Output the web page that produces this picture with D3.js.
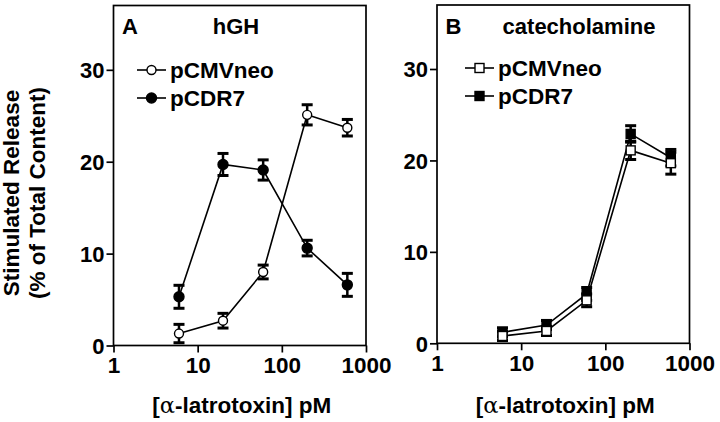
<!DOCTYPE html>
<html><head><meta charset="utf-8">
<script src="https://cdnjs.cloudflare.com/ajax/libs/d3/7.8.5/d3.min.js"></script>
<style>body{margin:0;background:#fff}svg{display:block}text{font-family:"Liberation Sans",Arial,Helvetica,sans-serif;font-weight:bold;fill:#000}</style>
</head><body><svg id="c" width="720" height="422"></svg>
<script>
const doses = [6, 20, 60, 200, 600];
const xTicks = [1, 10, 100, 1000];
const yTicks = [0, 10, 20, 30];
// Panel A: hGH
const hghCMV = [1.3, 2.7, 8.0, 25.1, 23.7];
const hghCMVErr = [1.0, 0.8, 0.75, 1.1, 0.9];
const hghCDR = [5.3, 19.7, 19.1, 10.6, 6.6];
const hghCDRErr = [1.25, 1.2, 1.1, 0.85, 1.25];
// Panel B: catecholamine
const catCMV = [0.8, 1.35, 4.7, 21.1, 19.7];
const catCMVErr = [0.5, 0.5, 0.7, 1.0, 1.2];
const catCDR = [1.2, 2.0, 5.4, 22.9, 20.3];
const catCDRErr = [0.5, 0.5, 0.7, 0.9, 0.9];

const svg = d3.select("#c");

function panel(o) {
  const x = d3.scaleLog().domain([1, 1000]).range([o.x0, o.x1]);
  const y = d3.scaleLinear().domain([0, 37]).range([o.y0, o.y1]);
  const g = svg.append("g");
  g.append("rect").attr("x", o.x0).attr("y", o.y1).attr("width", o.x1 - o.x0).attr("height", o.y0 - o.y1)
    .attr("fill", "none").attr("stroke", "#000").attr("stroke-width", 1.7);
  const xa = g.append("g").attr("transform", `translate(0,${o.y0})`)
    .call(d3.axisBottom(x).tickValues(xTicks).tickFormat(d3.format("d")).tickSize(7).tickPadding(5));
  const ya = g.append("g").attr("transform", `translate(${o.x0},0)`)
    .call(d3.axisLeft(y).tickValues(yTicks).tickSize(7).tickPadding(2));
  [xa, ya].forEach(a => { a.select(".domain").remove(); a.selectAll("line").attr("stroke", "#000").attr("stroke-width", 1.7); });
  xa.selectAll("text").style("font-size", "22.5px").attr("fill", "#000");
  ya.selectAll("text").style("font-size", "22px").attr("fill", "#000").attr("dy", "0.36em");
  g.append("text").attr("x", o.x0 + 8.5).attr("y", 34).style("font-size", "22px").text(o.letter);
  g.append("text").attr("x", o.titleX).attr("y", 34).attr("text-anchor", "middle").style("font-size", "22px").text(o.title);
  const xt = g.append("text").attr("x", (o.x0 + o.x1) / 2 + 2).attr("y", 413).attr("text-anchor", "middle").style("font-size", "22.5px");
  xt.append("tspan").text("[");
  xt.append("tspan").style("font-weight", "normal").style("font-family", "'DejaVu Serif',serif").text("α");
  xt.append("tspan").text("-latrotoxin] pM");

  o.series.forEach(s => {
    const pts = doses.map((d, i) => ({ d, v: s.vals[i], e: s.err[i] }));
    g.append("path").datum(pts).attr("fill", "none").attr("stroke", "#000").attr("stroke-width", 1.6)
      .attr("d", d3.line().x(p => x(p.d)).y(p => y(p.v)));
    const eb = g.append("g").selectAll("g").data(pts).join("g");
    eb.append("line").attr("x1", p => x(p.d)).attr("x2", p => x(p.d))
      .attr("y1", p => y(p.v - p.e)).attr("y2", p => y(p.v + p.e)).attr("stroke", "#000").attr("stroke-width", 2.5);
    [-1, 1].forEach(sg => {
      eb.append("line").attr("x1", p => x(p.d) - 5.5).attr("x2", p => x(p.d) + 5.5)
        .attr("y1", p => y(p.v + sg * p.e)).attr("y2", p => y(p.v + sg * p.e)).attr("stroke", "#000").attr("stroke-width", 3);
    });
  });
  // markers: filled first, open on top
  [...o.series].sort((a, b) => (b.filled ? 1 : 0) - (a.filled ? 1 : 0)).forEach(s => {
    const pts = doses.map((d, i) => [x(d), y(s.vals[i])]);
    drawMarkers(g, pts, s.shape, s.filled);
  });
  o.series.forEach((s, i) => {
    const ly = o.legY + i * 28;
    g.append("line").attr("x1", o.legX).attr("x2", o.legX + 29).attr("y1", ly).attr("y2", ly).attr("stroke", "#000").attr("stroke-width", 1.6);
    drawMarkers(g, [[o.legX + 14.5, ly]], s.shape, s.filled);
    g.append("text").attr("x", o.legX + 33).attr("y", ly).attr("dy", "0.36em").style("font-size", "22.5px").text(s.name);
  });
}

function drawMarkers(g, pts, shape, filled) {
  if (shape === "circle") {
    g.append("g").selectAll("circle").data(pts).join("circle")
      .attr("cx", p => p[0]).attr("cy", p => p[1]).attr("r", filled ? 5 : 4.5)
      .attr("fill", filled ? "#000" : "#fff").attr("stroke", "#000").attr("stroke-width", 1.4);
  } else {
    g.append("g").selectAll("rect").data(pts).join("rect")
      .attr("x", p => p[0] - 4.5).attr("y", p => p[1] - 4.5).attr("width", 9).attr("height", 9)
      .attr("fill", filled ? "#000" : "#fff").attr("stroke", "#000").attr("stroke-width", 1.4);
  }
}

panel({ x0: 113.5, x1: 366, y0: 345.5, y1: 5.5, letter: "A", title: "hGH", titleX: 236, legX: 137, legY: 70,
  series: [
    { name: "pCMVneo", vals: hghCMV, err: hghCMVErr, shape: "circle", filled: false },
    { name: "pCDR7", vals: hghCDR, err: hghCDRErr, shape: "circle", filled: true }
  ] });
panel({ x0: 437, x1: 689.5, y0: 343.3, y1: 5, letter: "B", title: "catecholamine", titleX: 579, legX: 465, legY: 68,
  series: [
    { name: "pCMVneo", vals: catCMV, err: catCMVErr, shape: "square", filled: false },
    { name: "pCDR7", vals: catCDR, err: catCDRErr, shape: "square", filled: true }
  ] });

const yt = svg.append("g").attr("transform", "translate(0,193) rotate(-90)");
yt.append("text").attr("x", 0).attr("y", 19).attr("text-anchor", "middle").style("font-size", "22.5px").text("Stimulated Release");
yt.append("text").attr("x", 0).attr("y", 45).attr("text-anchor", "middle").style("font-size", "22.5px").text("(% of Total Content)");
</script></body></html>
